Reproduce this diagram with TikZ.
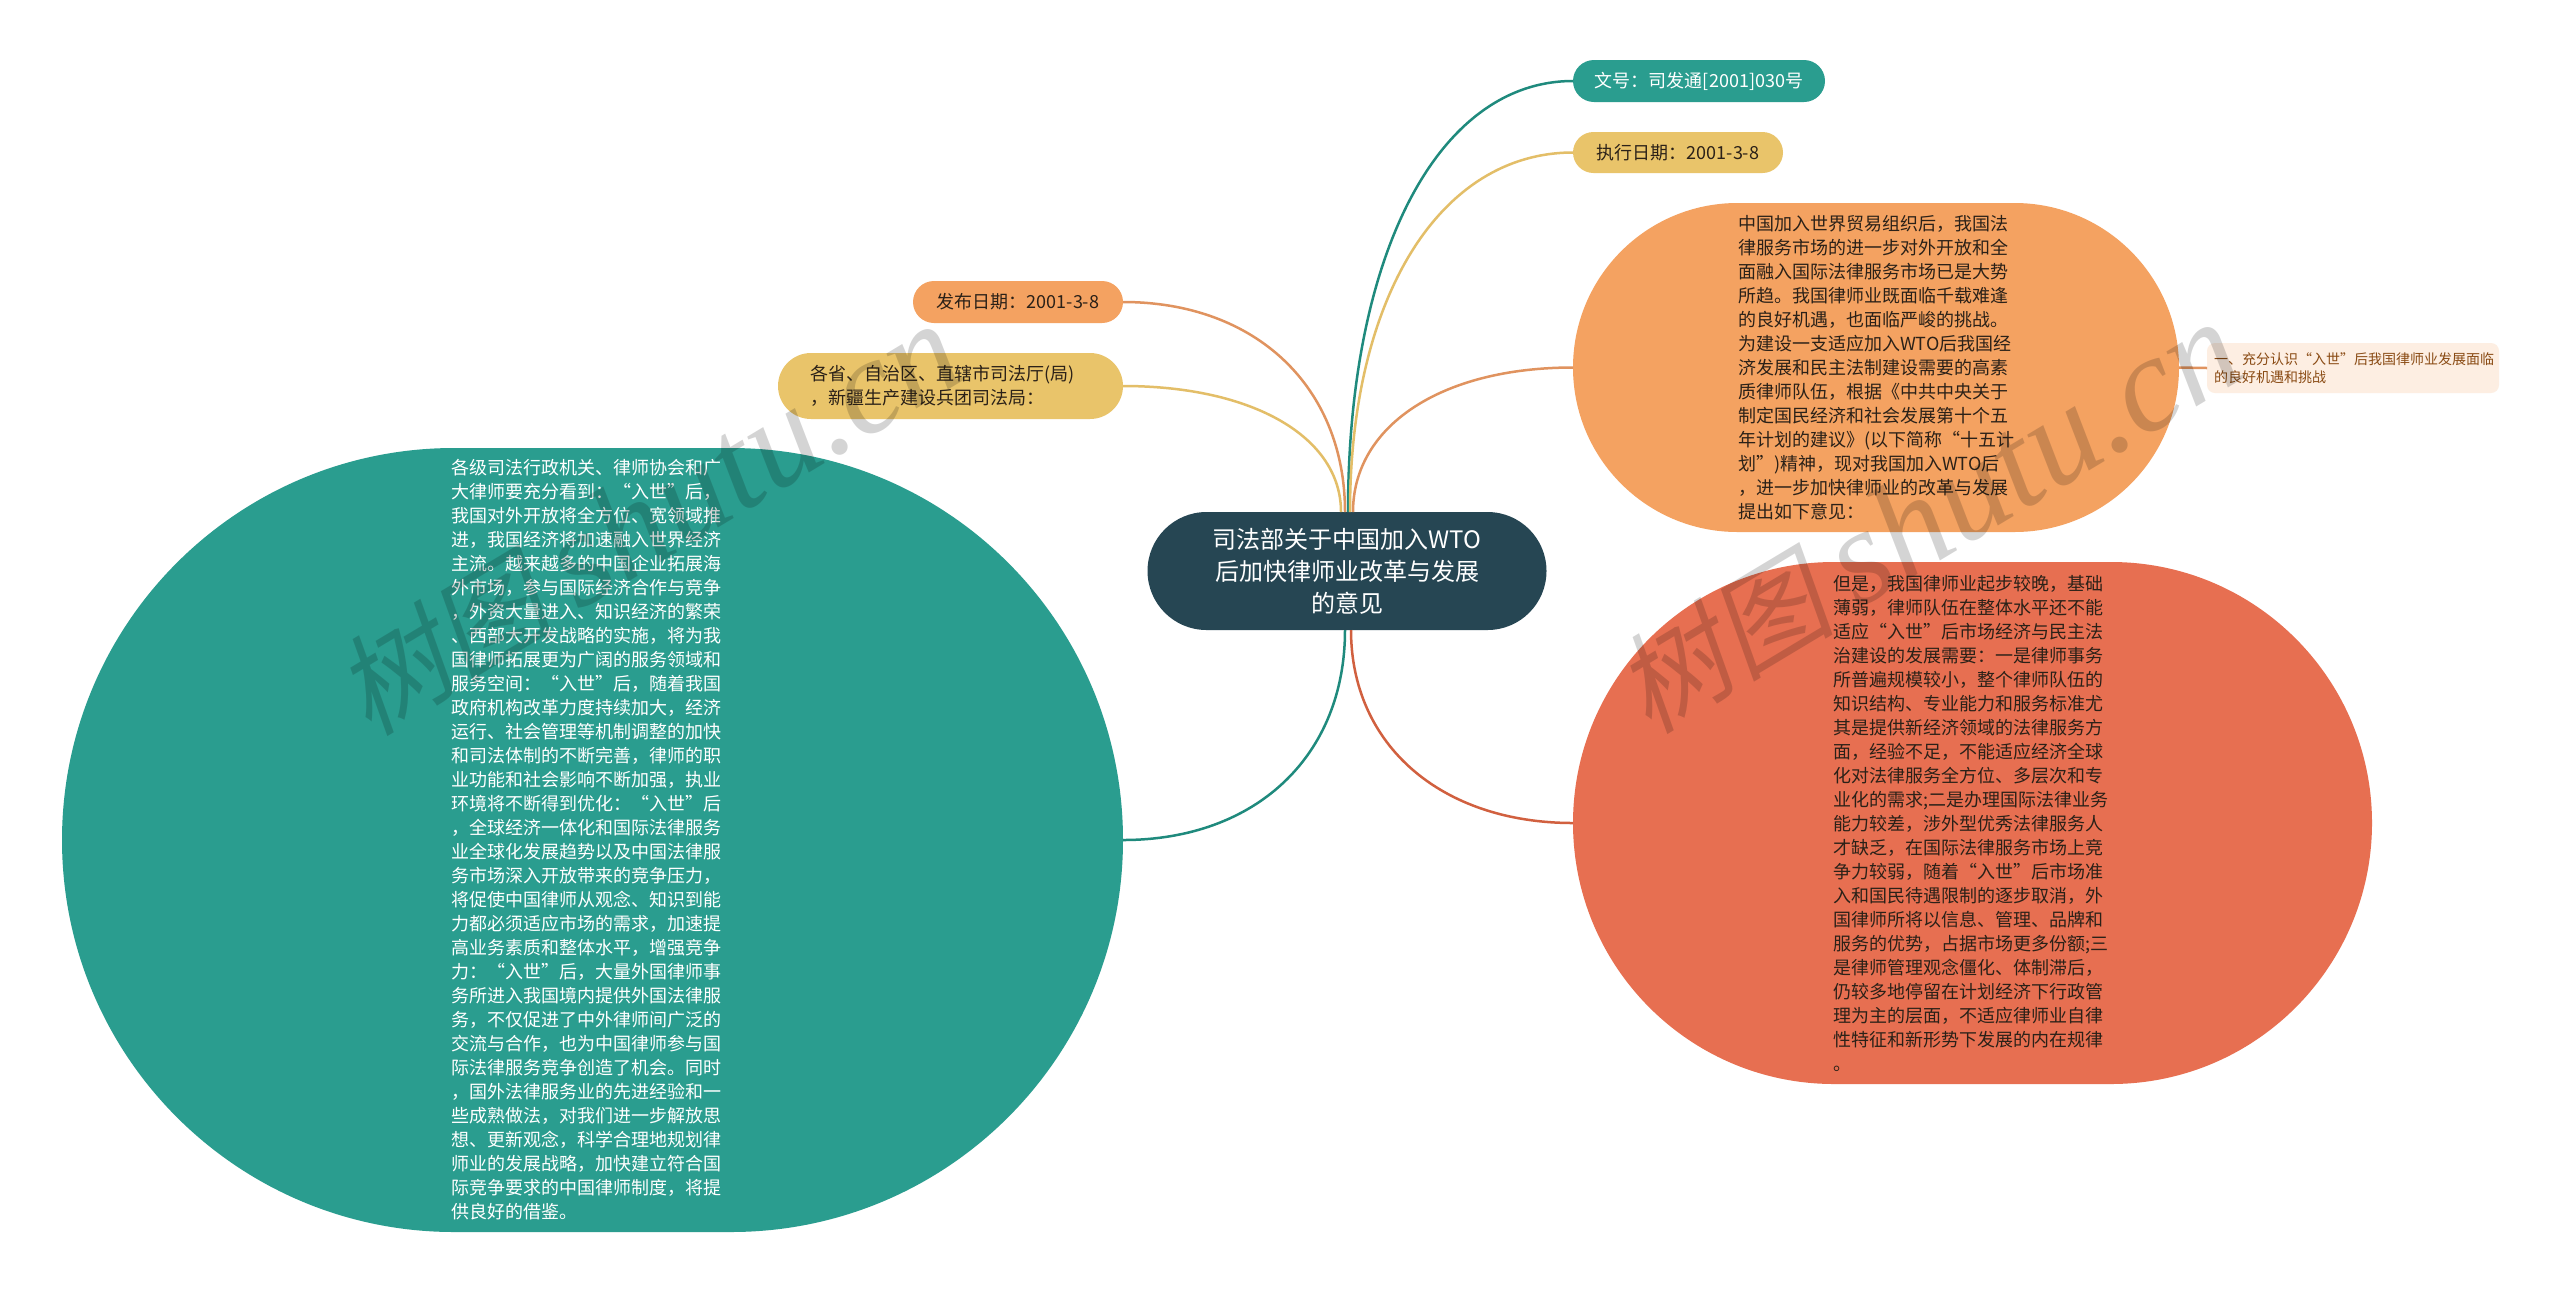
\documentclass[tikz,border=0pt]{standalone}
\usepackage{fontspec}
\setmainfont{Noto Sans CJK SC}
\newfontfamily\wmcjk[FakeSlant=0.2]{Noto Sans CJK SC}
\newfontfamily\wmlat{Liberation Serif Italic}
\definecolor{cdark}{HTML}{264653}
\definecolor{cgreen}{HTML}{2A9D8F}
\definecolor{corange}{HTML}{F4A261}
\definecolor{cyellow}{HTML}{E9C46A}
\definecolor{cred}{HTML}{E76F51}
\definecolor{lgreen}{HTML}{1F8A7D}
\definecolor{lorange}{HTML}{E0935F}
\definecolor{lyellow}{HTML}{E3BE68}
\definecolor{lred}{HTML}{D1603F}
\definecolor{csub}{HTML}{FDEEE2}
\definecolor{tsub}{HTML}{8A4B14}
\definecolor{tdark}{HTML}{2B2118}
\tikzset{
  box/.style={inner sep=0pt,outer sep=0pt,fill=#1},
  body/.style={font=\fontsize{9}{12}\selectfont,align=left},
  pilltext/.style={font=\fontsize{9}{12}\selectfont,align=left,text=tdark},
  link/.style={line width=1.25pt,draw=#1},
  wmark/.style={rotate=31,text=black,text opacity=0.17,inner sep=0pt},
}
\begin{document}
\begin{tikzpicture}[x=0.5pt,y=-0.5pt]
\useasboundingbox (0,0) rectangle (2560,1292);
\node[box=white,minimum width=1280pt,minimum height=646pt] (bg) at (1280,646) {};

\node[box=cdark,minimum width=199.5pt,minimum height=59pt,rounded corners=29.5pt,text=white,font=\fontsize{12}{16}\selectfont,align=center] (root) at (1347,571)
 {司法部关于中国加入WTO\\后加快律师业改革与发展\\的意见};

\node[box=cgreen,minimum width=126pt,minimum height=21pt,rounded corners=10.5pt,font=\fontsize{9}{12}\selectfont,text=white] (wenhao) at (1699,81) {文号：司发通[2001]030号};
\node[box=cyellow,minimum width=105pt,minimum height=20.5pt,rounded corners=10.25pt,pilltext] (zhixing) at (1678,152.5) {执行日期：2001-3-8};
\node[box=corange,minimum width=105pt,minimum height=21pt,rounded corners=10.5pt,pilltext] (fabu) at (1018,302) {发布日期：2001-3-8};
\node[box=cyellow,minimum width=172.5pt,minimum height=33pt,rounded corners=16.5pt,pilltext,text width=140.5pt] (gesheng) at (950.5,386)
 {各省、自治区、直辖市司法厅(局)\\，新疆生产建设兵团司法局：};

\node[box=cgreen,minimum width=530.5pt,minimum height=392pt,rounded corners=196pt,body,text=white,text width=141pt] (lawyers) at (592.5,840)
 {各级司法行政机关、律师协会和广\\
大律师要充分看到：“入世”后，\\
我国对外开放将全方位、宽领域推\\
进，我国经济将加速融入世界经济\\
主流。越来越多的中国企业拓展海\\
外市场，参与国际经济合作与竞争\\
，外资大量进入、知识经济的繁荣\\
、西部大开发战略的实施，将为我\\
国律师拓展更为广阔的服务领域和\\
服务空间：“入世”后，随着我国\\
政府机构改革力度持续加大，经济\\
运行、社会管理等机制调整的加快\\
和司法体制的不断完善，律师的职\\
业功能和社会影响不断加强，执业\\
环境将不断得到优化：“入世”后\\
，全球经济一体化和国际法律服务\\
业全球化发展趋势以及中国法律服\\
务市场深入开放带来的竞争压力，\\
将促使中国律师从观念、知识到能\\
力都必须适应市场的需求，加速提\\
高业务素质和整体水平，增强竞争\\
力：“入世”后，大量外国律师事\\
务所进入我国境内提供外国法律服\\
务，不仅促进了中外律师间广泛的\\
交流与合作，也为中国律师参与国\\
际法律服务竞争创造了机会。同时\\
，国外法律服务业的先进经验和一\\
些成熟做法，对我们进一步解放思\\
想、更新观念，科学合理地规划律\\
师业的发展战略，加快建立符合国\\
际竞争要求的中国律师制度，将提\\
供良好的借鉴。};

\node[box=corange,minimum width=303pt,minimum height=164.5pt,rounded corners=82.25pt,body,text=tdark,text width=138pt] (wto) at (1876,367.5)
 {中国加入世界贸易组织后，我国法\\
律服务市场的进一步对外开放和全\\
面融入国际法律服务市场已是大势\\
所趋。我国律师业既面临千载难逢\\
的良好机遇，也面临严峻的挑战。\\
为建设一支适应加入WTO后我国经\\
济发展和民主法制建设需要的高素\\
质律师队伍，根据《中共中央关于\\
制定国民经济和社会发展第十个五\\
年计划的建议》(以下简称“十五计\\
划”)精神，现对我国加入WTO后\\
，进一步加快律师业的改革与发展\\
提出如下意见：};

\node[box=csub,minimum width=146pt,minimum height=25pt,rounded corners=4pt,font=\fontsize{7}{9}\selectfont,text=tsub,align=left,text width=139pt] (sub) at (2353,368)
 {一、充分认识“入世”后我国律师业发展面临\\的良好机遇和挑战};

\node[box=cred,minimum width=399.5pt,minimum height=261pt,rounded corners=130.5pt,body,text=tdark,text width=139pt] (weak) at (1972.5,823)
 {但是，我国律师业起步较晚，基础\\
薄弱，律师队伍在整体水平还不能\\
适应“入世”后市场经济与民主法\\
治建设的发展需要：一是律师事务\\
所普遍规模较小，整个律师队伍的\\
知识结构、专业能力和服务标准尤\\
其是提供新经济领域的法律服务方\\
面，经验不足，不能适应经济全球\\
化对法律服务全方位、多层次和专\\
业化的需求;二是办理国际法律业务\\
能力较差，涉外型优秀法律服务人\\
才缺乏，在国际法律服务市场上竞\\
争力较弱，随着“入世”后市场准\\
入和国民待遇限制的逐步取消，外\\
国律师所将以信息、管理、品牌和\\
服务的优势，占据市场更多份额;三\\
是律师管理观念僵化、体制滞后，\\
仍较多地停留在计划经济下行政管\\
理为主的层面，不适应律师业自律\\
性特征和新形势下发展的内在规律\\
。};

\draw[link=lgreen] ([xshift=0.5pt]root.north) .. controls +(0,-258) and +(-135,0) .. (wenhao.west);
\draw[link=lyellow] ([xshift=1.5pt]root.north) .. controls +(0,-215) and +(-133,0) .. (zhixing.west);
\draw[link=lorange] ([xshift=3pt]root.north) .. controls +(0,-86) and +(-132,0) .. (wto.west);
\draw[link=lorange] ([xshift=-1pt]root.north) .. controls +(0,-125) and +(133,0) .. (fabu.east);
\draw[link=lyellow] ([xshift=-3pt]root.north) .. controls +(0,-75) and +(130,0) .. (gesheng.east);
\draw[link=lgreen] ([xshift=-1pt]root.south) .. controls +(0,126) and +(133,0) .. (lawyers.east);
\draw[link=lred] ([xshift=2pt]root.south) .. controls +(0,115) and +(-132,0) .. (weak.west);
\draw[link=lorange] (wto.east) -- (sub.west);

\node[wmark] (wm1) at (648,520) {{\wmcjk\fontsize{55}{60}\selectfont 树图}\hspace{12pt}{\wmlat\fontsize{68}{60}\selectfont shutu.cn}};
\node[wmark] (wm2) at (1928,518) {{\wmcjk\fontsize{55}{60}\selectfont 树图}\hspace{12pt}{\wmlat\fontsize{68}{60}\selectfont shutu.cn}};
\end{tikzpicture}
\end{document}
